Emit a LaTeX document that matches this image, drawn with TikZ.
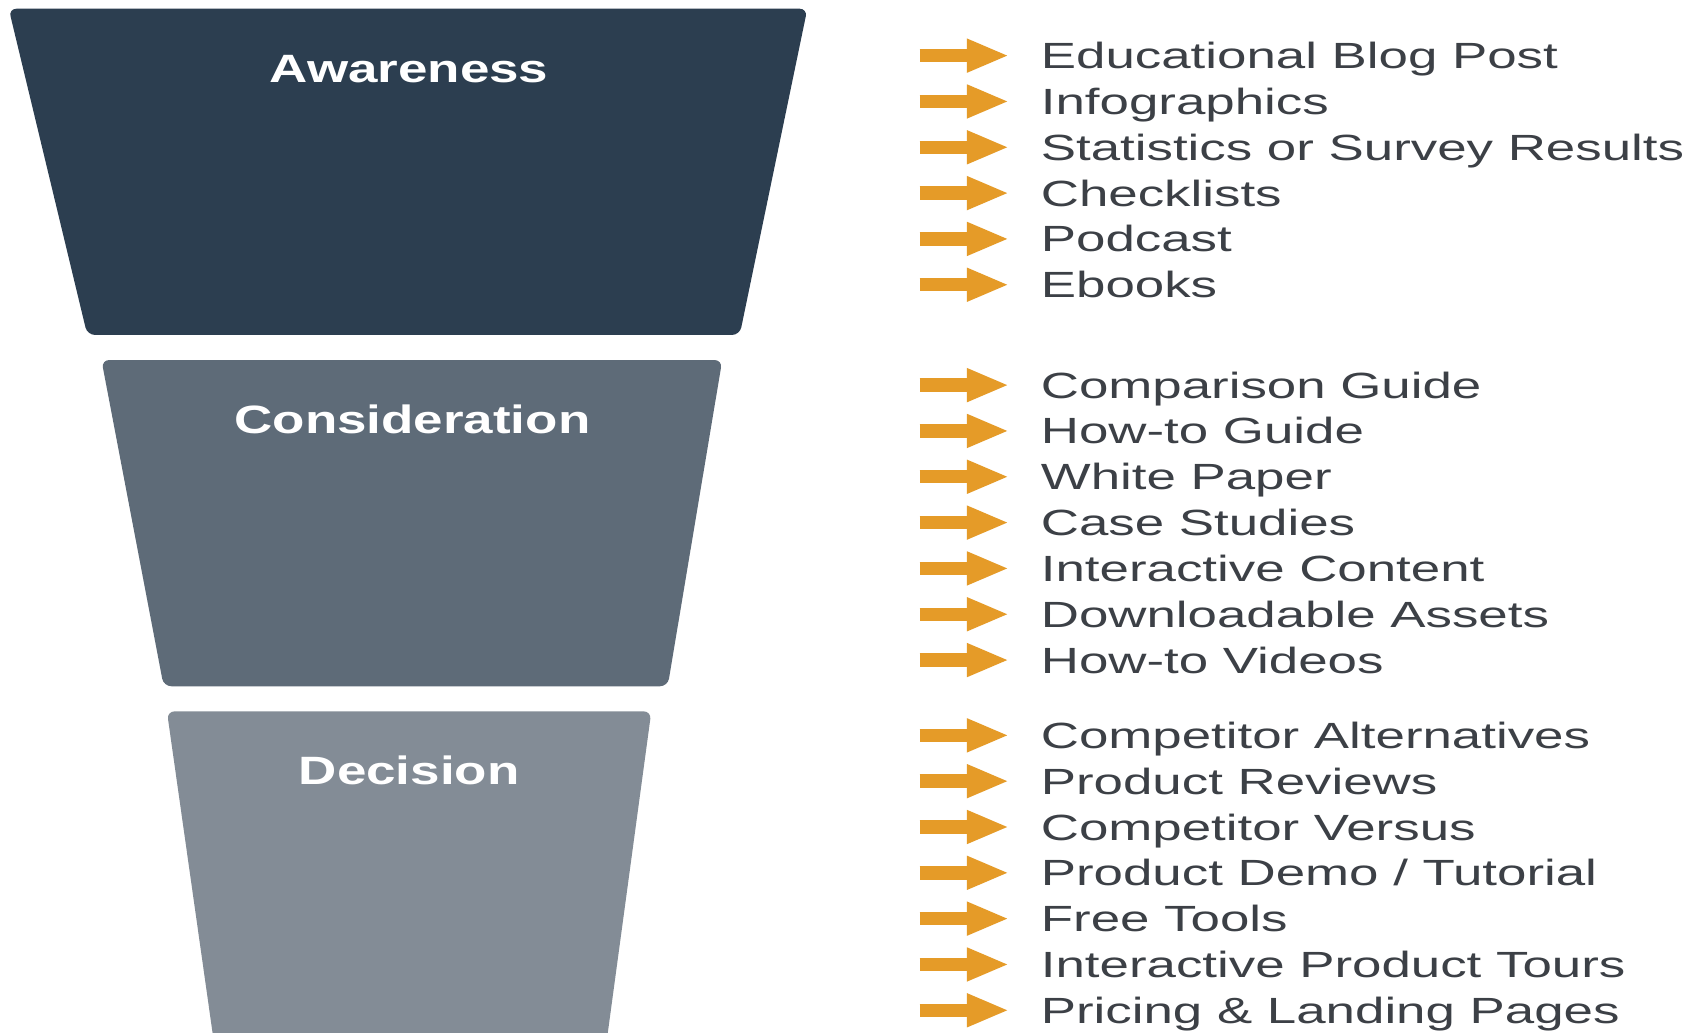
\documentclass[tikz,border=0pt]{standalone}
\usepackage{fontspec}
\setmainfont{Liberation Sans}
\usepackage{tikz}
\usetikzlibrary{arrows.meta}

\definecolor{awareblue}{HTML}{2C3E50}
\definecolor{considgray}{HTML}{5E6B78}
\definecolor{decisgray}{HTML}{838C96}
\definecolor{arroworange}{HTML}{E59B28}
\definecolor{itemgray}{HTML}{3C4046}

\tikzset{
	stage/.style={rounded corners=2pt},
	stagelabel/.style={text=white,font=\bfseries\fontsize{10.3}{12}\selectfont,xscale=1.34,inner sep=0pt,text height=7.4pt,text depth=0pt},
	item/.style={anchor=west,text=itemgray,font=\fontsize{9.5}{11}\selectfont,xscale=1.45,inner sep=0pt,text height=6.8pt,text depth=0pt},
	pointer/.style={draw=arroworange,line width=3.5pt,-{Triangle[length=11pt,width=8pt]},shorten >=0.28cm}
}

\begin{document}
\begin{tikzpicture}[x=0.01cm,y=-0.01cm]
		\clip (0,0) rectangle (1560,946);
		\fill[white] (0,0) rectangle (1560,946);
		
		% funnel
		\fill[stage,fill=awareblue] (8,8) -- (740,8) -- (678,307) -- (80,307) -- cycle;
		\fill[stage,fill=considgray] (93,330) -- (662,330) -- (612,629) -- (150,629) -- cycle;
		\fill[stage,fill=decisgray] (153,652) -- (597,652) -- (555,962) -- (197,962) -- cycle;
		
		\node[stagelabel] (aware) at (375,63) {Awareness};
		\node[stagelabel] (consid) at (378,384) {Consideration};
		\node[stagelabel] (decis) at (375,706) {Decision};
		
		% content lists
		\foreach \txt [count=\i] in {Educational Blog Post,Infographics,Statistics or Survey Results,Checklists,Podcast,Ebooks} {
			\node[item] (aw-\i) at (953,{9+42*\i}) {\txt};
			\coordinate (aw-\i-s) at (843,{9+42*\i});
			\draw[pointer] (aw-\i-s) -- (aw-\i);
		}
		
		\foreach \txt [count=\i] in {Comparison Guide,How-to Guide,White Paper,Case Studies,Interactive Content,Downloadable Assets,How-to Videos} {
			\node[item] (co-\i) at (953,{311+42*\i}) {\txt};
			\coordinate (co-\i-s) at (843,{311+42*\i});
			\draw[pointer] (co-\i-s) -- (co-\i);
		}
		
		\foreach \txt [count=\i] in {Competitor Alternatives,Product Reviews,Competitor Versus,Product Demo / Tutorial,Free Tools,Interactive Product Tours,Pricing \& Landing Pages} {
			\node[item] (de-\i) at (953,{632+42*\i}) {\txt};
			\coordinate (de-\i-s) at (843,{632+42*\i});
			\draw[pointer] (de-\i-s) -- (de-\i);
		}
		
	\end{tikzpicture}
\end{document}
